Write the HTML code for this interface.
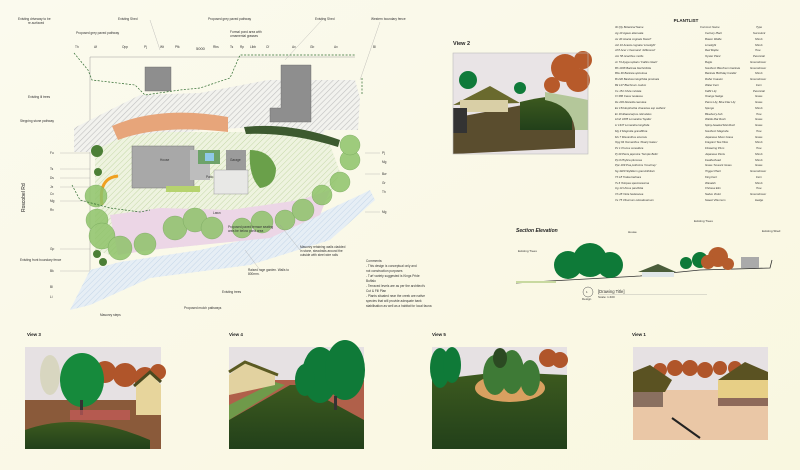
<!DOCTYPE html>
<html><head><meta charset="utf-8"><style>
html,body{margin:0;padding:0;background:#fbf9ea;}
svg{display:block;font-family:"Liberation Sans",sans-serif;}
</style></head><body>
<svg width="800" height="470" viewBox="0 0 800 470">
<defs>
<linearGradient id="bg" x1="0" y1="0" x2="1" y2="1"><stop offset="0" stop-color="#fbfaee"/><stop offset="1" stop-color="#f9f7e0"/></linearGradient>
<pattern id="hatch" width="4" height="4" patternUnits="userSpaceOnUse" patternTransform="rotate(45)"><rect width="4" height="4" fill="#f2f2ee"/><line x1="0" y1="0" x2="0" y2="4" stroke="#c0c0c0" stroke-width="1.2"/></pattern>
<pattern id="lawn" width="4" height="4" patternUnits="userSpaceOnUse" patternTransform="rotate(45)"><rect width="4" height="4" fill="#eef3df"/><line x1="0" y1="0" x2="0" y2="4" stroke="#c5d8a8" stroke-width="1"/></pattern>
<pattern id="blue" width="4" height="4" patternUnits="userSpaceOnUse" patternTransform="rotate(45)"><rect width="4" height="4" fill="#e6eef5"/><line x1="0" y1="0" x2="0" y2="4" stroke="#c4d6e8" stroke-width="1"/></pattern>
<linearGradient id="grass" x1="0" y1="0" x2="0" y2="1"><stop offset="0" stop-color="#3d5a1f"/><stop offset="1" stop-color="#22401a"/></linearGradient>
</defs>
<rect width="800" height="470" fill="url(#bg)"/>

<!-- PLAN -->
<g stroke="#888" stroke-width="0.4" fill="none">
<line x1="90" y1="57" x2="355" y2="57"/><line x1="90" y1="57" x2="90" y2="275"/>
</g>
<path d="M74,128 L140,95 L200,93 L268,80 L355,80 L360,98 L358,130 L325,130 L320,140 L280,130 L240,128 L200,130 L140,140 L115,152 L74,152Z" fill="url(#hatch)"/>
<path d="M90,270 L120,262 L200,250 L280,232 L360,195 L370,190 L375,200 L330,240 L250,265 L150,278 L90,305 L70,310Z" fill="url(#blue)"/>
<path d="M95,150 L120,138 L160,132 L230,132 L300,132 L330,145 L340,172 L330,198 L300,215 L250,233 L200,245 L150,250 L110,255 L95,250Z" fill="url(#lawn)"/>
<path d="M110,215 L160,208 L230,210 L300,200 L330,190 L320,215 L270,238 L200,245 L150,250 L118,255Z" fill="#ecd6e6"/>
<path d="M112,126 Q160,105 228,117 L228,132 Q160,124 118,140Z" fill="#e7a57a"/>
<path d="M244,127 Q290,122 340,140 L338,147 Q290,132 246,134Z" fill="#3d5a2f"/>
<rect x="145" y="67" width="26" height="24" fill="#8e8e8e" stroke="#666" stroke-width="0.4"/>
<path d="M281,65 L311,65 L311,122 L270,122 L270,108 L281,108Z" fill="#8e8e8e" stroke="#666" stroke-width="0.4"/>
<rect x="132" y="146" width="62" height="42" fill="#a8a8a8" stroke="#777" stroke-width="0.5"/>
<rect x="190" y="150" width="20" height="30" fill="#bdbdbd"/>
<rect x="226" y="150" width="20" height="28" fill="#9b9b9b"/>
<rect x="214" y="170" width="34" height="24" fill="#e8e8e6" stroke="#888" stroke-width="0.4"/>
<rect x="198" y="150" width="22" height="14" fill="#6ea36a"/><rect x="205" y="153" width="9" height="8" fill="#8fc9e8"/>
<rect x="166" y="186" width="34" height="6" fill="#b6d36e"/>
<path d="M102,205 Q98,178 118,176" stroke="#f0a020" stroke-width="3" fill="none"/>
<g fill="#8fc36a" opacity="0.85" stroke="#5f9a44" stroke-width="0.4">
<circle cx="96" cy="196" r="11"/><circle cx="97" cy="220" r="11"/><circle cx="102" cy="236" r="13"/><circle cx="120" cy="248" r="12"/><circle cx="145" cy="244" r="11"/><circle cx="175" cy="228" r="12"/><circle cx="195" cy="220" r="12"/><circle cx="212" cy="228" r="11"/><circle cx="242" cy="228" r="10"/><circle cx="262" cy="222" r="11"/><circle cx="285" cy="220" r="10"/><circle cx="303" cy="210" r="11"/><circle cx="322" cy="195" r="10"/><circle cx="340" cy="182" r="10"/><circle cx="350" cy="160" r="10"/><circle cx="350" cy="145" r="10"/>
</g>
<g fill="#4c7f36"><circle cx="97" cy="151" r="6"/><circle cx="97" cy="254" r="4"/><circle cx="103" cy="262" r="4"/><circle cx="98" cy="172" r="4"/></g>
<path d="M250,150 Q270,150 276,168 Q276,186 260,188 Q248,176 250,150Z" fill="#6aa04a"/>
<g stroke="#2e6b2e" stroke-dasharray="2,1.5" stroke-width="0.7" fill="none">
<path d="M74,53 L88,70 L92,80 L135,85 L145,95 L180,90 L200,88 L230,78 L240,55 L355,55"/>
<path d="M362,78 L362,95"/>
<path d="M72,185 L80,200 L110,208 L140,212 L150,210"/>
</g>
<text x="196" y="50" font-size="4" fill="#333">5000</text>
<g font-size="3.2" fill="#333">
<text x="18" y="20">Existing driveway to be</text><text x="28" y="24">re-surfaced</text>
<text x="118" y="20">Existing Shed</text><text x="208" y="20">Proposed grey paved pathway</text><text x="315" y="20">Existing Shed</text><text x="371" y="20">Western boundary fence</text>
<text x="76" y="34">Proposed grey paved pathway</text><text x="230" y="33">Formal pond area with</text><text x="230" y="37">ornamental grasses</text>
<text x="28" y="98">Existing lil trees</text><text x="20" y="122">Stepping stone pathway</text>
<text x="228" y="228">Proposed paved terrace seating</text><text x="228" y="232">area be below pond area</text>
<text x="300" y="248">Masonry retaining walls cladded</text><text x="300" y="252">in stone, steadrails around the</text><text x="300" y="256">outside with steel wire rails</text>
<text x="248" y="271">Raised rage garden. Walls to</text><text x="248" y="275">800mm.</text>
<text x="222" y="293">Existing trees</text><text x="184" y="309">Proposed mulch pathways</text><text x="100" y="316">Masonry steps</text>
<text x="20" y="261">Existing front boundary fence</text>
<text x="366" y="262">Comments:</text><text x="366" y="267">- This design is conceptual only and</text><text x="366" y="272">not construction purposes</text><text x="366" y="277">- Turf variety suggested is Kings Pride</text><text x="366" y="282">Buffalo</text><text x="366" y="287">- Terraced levels are as per the architect's</text><text x="366" y="292">Cut &amp; Fill Plan</text><text x="366" y="297">- Plants situated near the creek are native</text><text x="366" y="302">species that will provide adequate bank</text><text x="366" y="307">stabilisation as well as a habitat for local fauna</text>
<text x="75" y="48">Th</text><text x="94" y="48">Af</text><text x="122" y="48">Opp</text><text x="144" y="48">Pj</text><text x="160" y="48">Wt</text><text x="175" y="48">Pfk</text><text x="213" y="48">Rbs</text><text x="230" y="48">Ts</text><text x="240" y="48">Rp</text><text x="250" y="48">Llbb</text><text x="266" y="48">Cf</text><text x="292" y="48">Ax</text><text x="310" y="48">Gb</text><text x="334" y="48">Ax</text><text x="373" y="48">Bl</text>
<text x="50" y="154">Fu</text><text x="50" y="170">Ts</text><text x="50" y="179">Ds</text><text x="50" y="188">Jx</text><text x="50" y="195">Cx</text><text x="50" y="202">Mg</text><text x="50" y="211">Rv</text><text x="50" y="250">Gp</text><text x="50" y="272">Bk</text><text x="50" y="288">Bl</text><text x="50" y="298">Li</text>
<text x="382" y="154">Pj</text><text x="382" y="163">Mg</text><text x="382" y="175">Bw</text><text x="382" y="184">Gr</text><text x="382" y="193">Th</text><text x="382" y="213">Mg</text>
<text x="160" y="161">House</text><text x="230" y="161">Garage</text><text x="206" y="178">Patio</text><text x="213" y="214">Lawn</text>
</g>
<text x="25" y="212" font-size="5" fill="#222" transform="rotate(-90 25 212)">Roscobel Rd</text>
<g stroke="#999" stroke-width="0.3" fill="none"><path d="M60,153 L90,153 M60,169 L90,169 M60,178 L90,178 M60,187 L90,187 M60,201 L90,201 M60,249 L90,249 M60,271 L90,271 M365,153 L380,153 M365,174 L380,174 M365,212 L380,212 M150,20 L160,50 M322,20 L285,60 M380,22 L360,80 M300,250 L280,225 M260,270 L245,250"/></g>

<!-- VIEW 2 -->
<text x="453" y="45" font-size="5.5" font-weight="bold" fill="#222">View 2</text>
<rect x="453" y="53" width="135" height="101" fill="#e9e4e6"/>
<path d="M453,118 L560,98 L575,118 L575,148 L453,154Z" fill="#5a4d2e"/>
<path d="M520,102 Q560,92 572,100 L572,130 L520,130Z" fill="url(#grass)"/>
<path d="M545,92 Q575,97 588,100 L588,130 L575,130 Q572,105 545,100Z" fill="#b4c79a"/>
<path d="M453,105 L490,86 L520,103Z" fill="#6a6a2e"/><rect x="460" y="100" width="48" height="12" fill="#d9cfa6"/>
<circle cx="468" cy="80" r="9" fill="#0f7a3a"/><circle cx="520" cy="88" r="6" fill="#0f7a3a"/>
<g fill="#b75a2a"><circle cx="565" cy="68" r="14"/><circle cx="578" cy="80" r="12"/><circle cx="552" cy="85" r="8"/><circle cx="583" cy="60" r="9"/></g>
<rect x="453" y="108" width="14" height="25" fill="#333"/>
<rect x="453" y="53" width="135" height="101" fill="none" stroke="#bbb" stroke-width="0.6"/>

<!-- PLANT LIST -->
<text x="686" y="22" font-size="4.5" font-weight="bold" fill="#222" text-anchor="middle">PLANTLIST</text>
<g font-size="2.8" fill="#333" font-style="italic">
<text x="615" y="28">ID  Qty   Botanical Name</text><text x="700" y="28">Common Name</text><text x="756" y="28">Type</text>
<text x="615" y="34">Ag   10   Agave attenuata</text><text x="705" y="34">Century Plant</text><text x="753" y="34">Succulent</text>
<text x="615" y="40">Ax  40   Acacia cognata 'Dwarf'</text><text x="705" y="40">Bower Wattle</text><text x="755" y="40">Shrub</text>
<text x="615" y="46">Acl  10   Acacia cognata 'Limelight'</text><text x="705" y="46">Limelight</text><text x="755" y="46">Shrub</text>
<text x="615" y="51">Af  8  Acer x freemanii 'Jeffersred'</text><text x="705" y="51">Red Maple</text><text x="755" y="51">Tree</text>
<text x="615" y="57">Am  58   Acanthus mollis</text><text x="705" y="57">Oyster Plant</text><text x="753" y="57">Perennial</text>
<text x="615" y="63">Ar  74   Ajuga reptans 'Catlins Giant'</text><text x="705" y="63">Bugle</text><text x="750" y="63">Groundcover</text>
<text x="615" y="69">Bh  1048  Banksia blechnifolia</text><text x="705" y="69">Southern Blechnum banksia</text><text x="750" y="69">Groundcover</text>
<text x="615" y="74">Bbs  46   Banksia spinulosa</text><text x="705" y="74">Banksia 'Birthday Candle'</text><text x="755" y="74">Shrub</text>
<text x="615" y="80">Bi  240   Banksia integrifolia prostrata</text><text x="705" y="80">Roller Coaster</text><text x="750" y="80">Groundcover</text>
<text x="615" y="86">Bk  127   Blechnum nudum</text><text x="705" y="86">Water Fern</text><text x="756" y="86">Fern</text>
<text x="615" y="92">Cs  151  Clivia miniata</text><text x="705" y="92">Kaffir Lily</text><text x="753" y="92">Perennial</text>
<text x="615" y="97">Cl  386   Carex testacea</text><text x="705" y="97">Orange Sedge</text><text x="755" y="97">Grass</text>
<text x="615" y="103">Ds  203   Dianella caerulea</text><text x="705" y="103">Paroo Lily, Blue Flax Lily</text><text x="755" y="103">Grass</text>
<text x="615" y="109">Ec  153   Euphorbia characias ssp wulfenii</text><text x="705" y="109">Spurge</text><text x="755" y="109">Shrub</text>
<text x="615" y="115">Er  16   Elaeocarpus reticulatus</text><text x="705" y="115">Blueberry Ash</text><text x="756" y="115">Tree</text>
<text x="615" y="120">Lhnh  1085  Lomandra 'Nyalla'</text><text x="705" y="120">Wattle Mat Rush</text><text x="755" y="120">Grass</text>
<text x="615" y="126">Ll  1337   Lomandra longifolia</text><text x="705" y="126">Spiny-headed Mat Rush</text><text x="755" y="126">Grass</text>
<text x="615" y="132">Mg  3   Magnolia grandiflora</text><text x="705" y="132">Southern Magnolia</text><text x="756" y="132">Tree</text>
<text x="615" y="138">Ms  7   Miscanthus sinensis</text><text x="705" y="138">Japanese Silver Grass</text><text x="755" y="138">Grass</text>
<text x="615" y="143">Opg  64   Osmanthus 'Pearly Gates'</text><text x="705" y="143">Fragrant Tea Olive</text><text x="755" y="143">Shrub</text>
<text x="615" y="149">Pc  1   Prunus cerasifera</text><text x="705" y="149">Flowering Plum</text><text x="756" y="149">Tree</text>
<text x="615" y="155">Pj  40   Pieris japonica 'Temple Bells'</text><text x="705" y="155">Japanese Pieris</text><text x="755" y="155">Shrub</text>
<text x="615" y="161">Pp  6   Phylica plumosa</text><text x="705" y="161">Featherhead</text><text x="755" y="161">Shrub</text>
<text x="615" y="166">Ppc  209  Poa poiformis 'Courtney'</text><text x="705" y="166">Grass Tussock Grass</text><text x="755" y="166">Grass</text>
<text x="615" y="172">Sg  4320  Stylidium graminifolium</text><text x="705" y="172">Trigger Plant</text><text x="750" y="172">Groundcover</text>
<text x="615" y="178">Th  18   Todea barbara</text><text x="705" y="178">King Fern</text><text x="756" y="178">Fern</text>
<text x="615" y="184">Ts  6   Telopea speciosissima</text><text x="705" y="184">Waratah</text><text x="755" y="184">Shrub</text>
<text x="615" y="189">Ug  13   Ulmus parvifolia</text><text x="705" y="189">Chinese Elm</text><text x="756" y="189">Tree</text>
<text x="615" y="195">Vh  28   Viola hederacea</text><text x="705" y="195">Native Violet</text><text x="750" y="195">Groundcover</text>
<text x="615" y="201">Vs  75   Viburnum odoratissimum</text><text x="705" y="201">Sweet Viburnum</text><text x="755" y="201">Hedge</text>
</g>

<!-- SECTION ELEVATION -->
<text x="516" y="232" font-size="5" font-weight="bold" font-style="italic" fill="#222">Section Elevation</text>
<g font-size="3" fill="#333"><text x="518" y="252">Existing Trees</text><text x="628" y="233">House</text><text x="694" y="222">Existing Trees</text><text x="762" y="232">Existing Shed</text></g>
<path d="M516,283 L550,281 L640,276 L700,270 L770,268 L772,260" stroke="#333" stroke-width="0.8" fill="none"/>
<rect x="516" y="281" width="40" height="2" fill="#c8d9a0"/>
<g fill="#0e7a38"><circle cx="568" cy="265" r="14"/><circle cx="590" cy="260" r="17"/><circle cx="610" cy="265" r="13"/><circle cx="700" cy="260" r="8"/><circle cx="686" cy="263" r="6"/></g>
<g fill="#b55c2c"><circle cx="718" cy="257" r="10"/><circle cx="708" cy="262" r="7"/><circle cx="728" cy="264" r="6"/></g>
<path d="M638,272 L658,264 L676,272Z" fill="#4a5d3a"/><rect x="642" y="272" width="32" height="5" fill="#dfe6e8"/>
<rect x="741" y="257" width="18" height="11" fill="#aaa"/>
<circle cx="588" cy="292" r="5" fill="none" stroke="#555" stroke-width="0.5"/>
<text x="586" y="293" font-size="3" fill="#333">1</text><text x="582" y="300" font-size="3" fill="#333">Design</text>
<text x="598" y="293" font-size="4.2" fill="#333">[Drawing Title]</text><text x="598" y="298" font-size="3" fill="#333">Scale: 1:400</text>
<line x1="598" y1="294.5" x2="707" y2="294.5" stroke="#999" stroke-width="0.3"/>

<!-- BOTTOM VIEWS -->
<g font-size="4.5" font-weight="bold" fill="#222"><text x="27" y="336">View 3</text><text x="229" y="336">View 4</text><text x="432" y="336">View 5</text><text x="632" y="336">View 1</text></g>

<g><rect x="25" y="347" width="136" height="102" fill="#e6e1e3"/>
<rect x="25" y="400" width="136" height="49" fill="#8a5a3a"/>
<path d="M25,449 L25,430 Q80,410 150,440 L150,449Z" fill="url(#grass)"/>
<g fill="#b0552a"><circle cx="105" cy="372" r="11"/><circle cx="125" cy="375" r="12"/><circle cx="145" cy="378" r="11"/><circle cx="158" cy="372" r="8"/></g>
<ellipse cx="82" cy="380" rx="22" ry="27" fill="#168a3c"/><rect x="80" y="400" width="3" height="15" fill="#333"/>
<ellipse cx="50" cy="375" rx="10" ry="20" fill="#d8d6c0"/>
<path d="M136,385 L150,373 L161,385 L161,415 L136,415Z" fill="#e7d59c"/><path d="M134,386 L150,372 L161,382" stroke="#4a4a20" stroke-width="3" fill="none"/>
<rect x="70" y="410" width="60" height="10" fill="#c75a5a" opacity="0.7"/></g>

<g><rect x="229" y="347" width="135" height="102" fill="#e6e1e3"/>
<rect x="229" y="380" width="135" height="69" fill="#b0604a"/>
<path d="M229,449 L229,420 L290,385 L300,385 L364,420 L364,449Z" fill="url(#grass)"/>
<path d="M229,420 L285,385 L275,382 L229,405Z" fill="#6f9a4a"/>
<path d="M229,375 L245,362 L275,372 L275,385 L229,395Z" fill="#e2d2a0"/><path d="M229,372 L245,362 L278,375" stroke="#5a5a22" stroke-width="3" fill="none"/>
<g fill="#0f7a38"><ellipse cx="320" cy="375" rx="18" ry="28"/><ellipse cx="345" cy="370" rx="20" ry="30"/><ellipse cx="305" cy="380" rx="10" ry="16"/></g>
<rect x="334" y="396" width="3" height="14" fill="#333"/></g>

<g><rect x="432" y="347" width="135" height="102" fill="#e6e1e3"/>
<path d="M432,449 L432,380 L500,372 L567,375 L567,449Z" fill="url(#grass)"/>
<ellipse cx="510" cy="388" rx="35" ry="14" fill="#d9a060"/>
<g fill="#3e7a36"><ellipse cx="495" cy="375" rx="12" ry="20"/><ellipse cx="512" cy="372" rx="12" ry="22"/><ellipse cx="530" cy="378" rx="10" ry="18"/><ellipse cx="500" cy="358" rx="7" ry="10" fill="#2b4a22"/></g>
<g fill="#0f7a38"><ellipse cx="440" cy="368" rx="10" ry="20"/><ellipse cx="452" cy="365" rx="9" ry="18"/></g>
<g fill="#b0552a"><circle cx="548" cy="358" r="9"/><circle cx="560" cy="360" r="8"/></g></g>

<g><rect x="633" y="347" width="135" height="93" fill="#e6e1e3"/>
<rect x="633" y="390" width="135" height="50" fill="#eac7a6"/>
<g fill="#b0552a"><circle cx="660" cy="370" r="7"/><circle cx="675" cy="368" r="8"/><circle cx="690" cy="368" r="8"/><circle cx="705" cy="370" r="8"/><circle cx="720" cy="368" r="7"/><circle cx="735" cy="368" r="7"/></g>
<path d="M633,392 L633,372 L650,365 L672,380 L665,392Z" fill="#5a5222"/><rect x="633" y="392" width="30" height="15" fill="#8a7060"/>
<path d="M718,380 L745,362 L768,372 L768,380Z" fill="#5a5222"/><rect x="718" y="380" width="50" height="18" fill="#e7cf86"/><rect x="718" y="398" width="50" height="8" fill="#8e6a5a"/>
<path d="M672,418 L700,438" stroke="#222" stroke-width="2"/></g>
</svg>
</body></html>
